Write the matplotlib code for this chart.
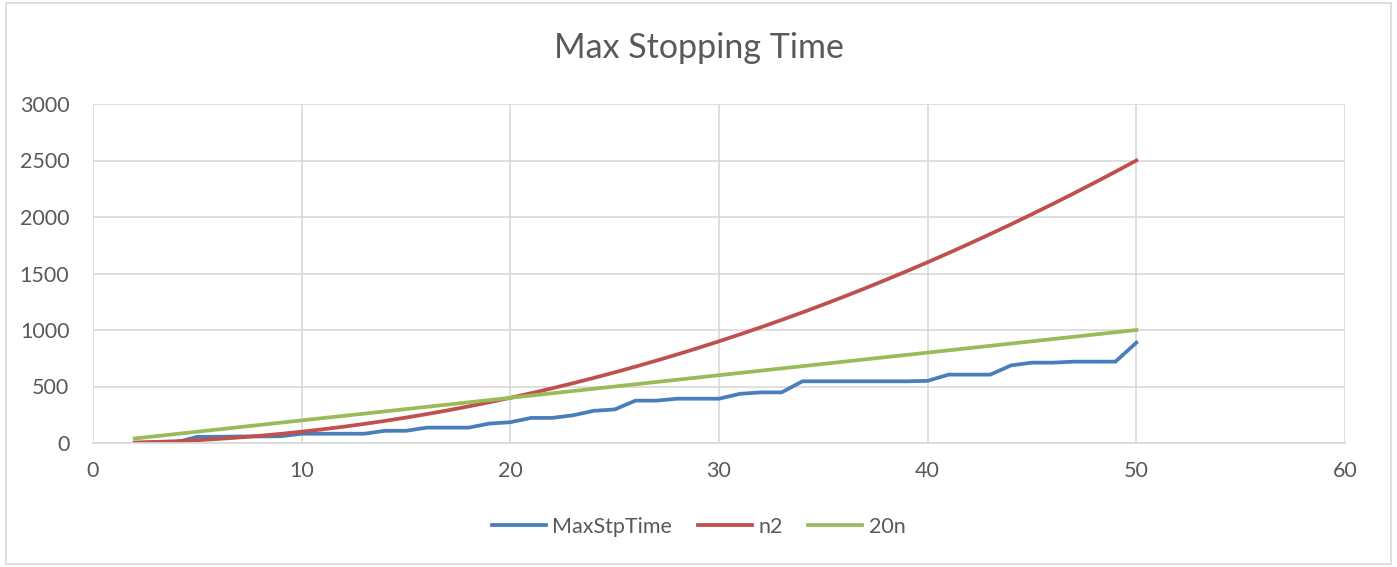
import matplotlib.pyplot as plt
from matplotlib.patches import Rectangle

n = list(range(2, 51))
max_stp_time = [1, 7, 7, 55, 55, 58, 58, 60, 82, 82, 82, 82, 108, 108, 136, 136, 136,
                172, 184, 222, 222, 245, 285, 297, 375, 375, 392, 392, 392, 435, 448,
                448, 546, 546, 546, 546, 546, 546, 550, 605, 605, 605, 687, 711, 711,
                720, 720, 720, 888]
n2 = [4, 9, 16, 25, 36, 49, 64, 81, 100, 121, 144, 169, 196, 225, 256, 289, 324,
      361, 400, 441, 484, 529, 576, 625, 676, 729, 784, 841, 900, 961, 1024, 1089,
      1156, 1225, 1296, 1369, 1444, 1521, 1600, 1681, 1764, 1849, 1936, 2025, 2116,
      2209, 2304, 2401, 2500]
n20 = [40, 60, 80, 100, 120, 140, 160, 180, 200, 220, 240, 260, 280, 300, 320, 340,
       360, 380, 400, 420, 440, 460, 480, 500, 520, 540, 560, 580, 600, 620, 640, 660,
       680, 700, 720, 740, 760, 780, 800, 820, 840, 860, 880, 900, 920, 940, 960, 980,
       1000]

plt.rcParams['font.family'] = ['Lato', 'DejaVu Sans']
txt = "#595959"
grid = "#D9D9D9"

fig = plt.figure(figsize=(13.97, 5.67), dpi=100)
fig.patches.append(Rectangle((0.004, 0.005), 0.992, 0.99, transform=fig.transFigure,
                             fill=False, edgecolor=grid, linewidth=1.2))
ax = fig.add_axes([93 / 1397, 1 - 443 / 567, (1345 - 93) / 1397, (443 - 104) / 567])

ax.plot(n, max_stp_time, color="#4A7EBB", linewidth=2.7, label="MaxStpTime")
ax.plot(n, n2, color="#C0504D", linewidth=2.7, label="n2")
ax.plot(n, n20, color="#9BBB59", linewidth=2.7, label="20n")

ax.set_xlim(0, 60)
ax.set_ylim(0, 3000)
ax.set_xticks(range(0, 61, 10))
ax.set_yticks(range(0, 3001, 500))
ax.grid(True, color=grid, linewidth=1.2)
ax.set_axisbelow(True)
for s in ["top", "right", "left"]:
    ax.spines[s].set_visible(False)
ax.spines["bottom"].set_color(grid)
ax.spines["bottom"].set_linewidth(1.2)
ax.tick_params(length=0, labelsize=15.5, colors=txt)
ax.tick_params(axis="y", pad=17)
ax.tick_params(axis="x", pad=13)

fig.text(0.5, 1 - 48 / 567, "Max Stopping Time", ha="center", va="center",
         fontsize=24.5, color=txt)
fig.legend(loc="center", bbox_to_anchor=(0.5, 1 - 527 / 567), ncol=3, frameon=False,
           fontsize=15.5, labelcolor=txt, handlelength=2.5, columnspacing=1.2,
           handletextpad=0.3)

fig.savefig("out.png", dpi=100)
